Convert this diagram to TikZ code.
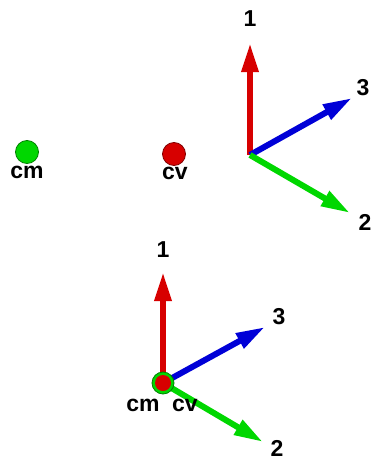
\documentclass[tikz,border=0pt]{standalone}
\usepackage{fontspec}
\setmainfont{Liberation Sans}
\usetikzlibrary{arrows.meta}
\definecolor{axred}{RGB}{215,0,0}
\definecolor{axgreen}{RGB}{0,215,0}
\definecolor{axblue}{RGB}{0,0,215}
\tikzset{axis/.style={line width=6pt,-{Triangle[length=29pt,width=16pt]}},
  lbl/.style={inner sep=0pt,font=\fontsize{23}{23}\selectfont\bfseries},
  dot/.style={circle,inner sep=0pt,line width=0.8pt}}

\begin{document}
\begin{tikzpicture}[x=1pt,y=-1pt]
   \useasboundingbox (0,0) rectangle (373,460);
   % single points
   \node[dot,minimum size=23pt,fill=axgreen,draw=axgreen!60!black] (cm) at (27,152) {};
   \node[lbl] (cmt) at (27,172) {cm};
   \node[dot,minimum size=23pt,fill=axred,draw=axred!60!black] (cv) at (174,154) {};
   \node[lbl] (cvt) at (175,173) {cv};
   % upper frame
   \begin{scope}[shift={(250,155)}]
    \coordinate (o) at (0,0);
    \coordinate (a) at (0,-112);
    \coordinate (b) at (100,58);
    \coordinate (c) at (102,-57);
    \draw[axis,axred] (o) -- (a);
    \draw[axis,axblue] (o) -- (c);
    \draw[axis,axgreen] (o) -- (b);
    \node[lbl] (l1) at (0,-136) {1};
    \node[lbl] (l2) at (115,67) {2};
    \node[lbl] (l3) at (113,-67) {3};
   \end{scope}
   % lower frame, both points at the origin
   \begin{scope}[shift={(163,383)}]
    \coordinate (o) at (0,0);
    \coordinate (a) at (0,-111);
    \coordinate (b) at (100,59);
    \coordinate (c) at (102,-56);
    \draw[axis,axred] (o) -- (a);
    \draw[axis,axblue] (o) -- (c);
    \draw[axis,axgreen] (o) -- (b);
    \node[dot,minimum size=22pt,fill=axgreen,draw=axgreen!60!black] (cm) at (o) {};
    \node[dot,minimum size=16pt,fill=axred] (cv) at (o) {};
    \node[lbl] (l1) at (0,-133) {1};
    \node[lbl] (l2) at (114,65) {2};
    \node[lbl] (l3) at (116,-66) {3};
    \node[lbl] (cmt) at (-20,22) {cm};
    \node[lbl] (cvt) at (22,22) {cv};
   \end{scope}
\end{tikzpicture}
\end{document}
